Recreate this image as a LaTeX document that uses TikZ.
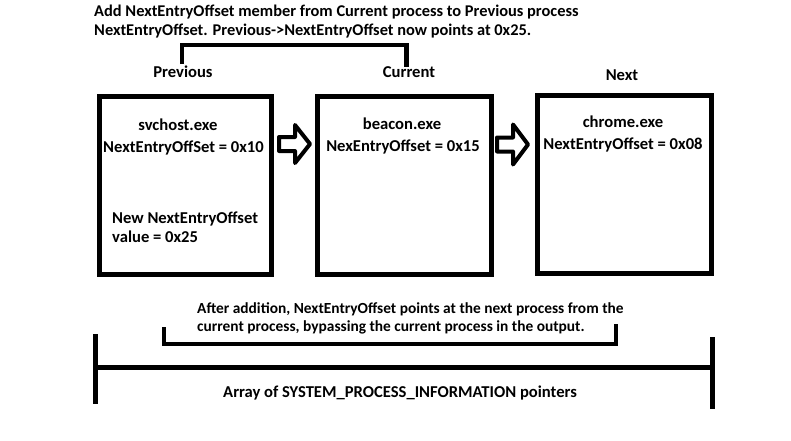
\documentclass[tikz,border=0pt]{standalone}
\usepackage{fontspec}
\setmainfont{Carlito}

\begin{document}
\begin{tikzpicture}[x=1pt,y=-1pt,
		every node/.style={font=\fontsize{16.6}{18.5}\selectfont\bfseries, inner sep=0pt},
		procbox/.style={draw, line width=5pt, minimum width=172pt, minimum height=178pt},
		blockarrow/.style={line width=4pt, line join=round},
		bracket/.style={line width=4.5pt}]
	\useasboundingbox (0,0) rectangle (791,440);

	% the three processes
	\node[procbox] (prev) at (185,185) {};
	\node[procbox, minimum width=174pt] (curr) at (404,185) {};
	\node[procbox, minimum width=174pt] (next) at (624,184) {};

	% hollow arrows from box to box
	\draw[blockarrow] ([xshift=5.5pt,yshift=41pt]prev.east) ++(0,-7) -- ++(16,0) -- ++(0,-12)
		-- ++(15,19) -- ++(-15,19) -- ++(0,-12) -- ++(-16,0) -- cycle;
	\draw[blockarrow] ([xshift=3.5pt,yshift=40.5pt]curr.east) ++(0,-7) -- ++(16,0) -- ++(0,-13)
		-- ++(15,20) -- ++(-15,20) -- ++(0,-13) -- ++(-16,0) -- cycle;

	% box contents
	\node[anchor=base] (prevname) at (178,130) {svchost.exe};
	\node[anchor=base] (prevoff) at (183.5,152.5) {NextEntryOffSet = 0x10};
	\node[anchor=base west, align=left] (prevnew) at (112,242) {New NextEntryOffset\\value = 0x25};
	\node[anchor=base] (currname) at (402,129) {beacon.exe};
	\node[anchor=base] (curroff) at (403,151) {NexEntryOffset = 0x15};
	\node[anchor=base] (nextname) at (623,127.5) {chrome.exe};
	\node[anchor=base] (nextoff) at (623,149) {NextEntryOffset = 0x08};

	% labels
	\node[anchor=base] (prevlbl) at (183,77) {Previous};
	\node[anchor=base] (currlbl) at (409,77) {Current};
	\node[anchor=base] (nextlbl) at (622,80) {Next};

	% top note and its bracket
	\node[anchor=base west, align=left, font=\fontsize{16.4}{18.5}\selectfont\bfseries] (addnote) at (94,35) {Add NextEntryOffset member from Current process to Previous process\\NextEntryOffset. Previous->NextEntryOffset now points at 0x25.};
	\draw[bracket] (182,64) |- (406.5,45) -- (406.5,67);

	% bottom note and its bracket
	\node[anchor=base west, align=left, font=\fontsize{15.4}{18}\selectfont\bfseries] (bypassnote) at (197,331) {After addition, NextEntryOffset points at the next process from the\\current process, bypassing the current process in the output.};
	\draw[bracket] (164,327) |- (616,344) -- (616,324);

	% array
	\draw[line width=5pt] (95,334) -- (95,404);
	\draw[line width=5pt] (712,337) -- (712,409);
	\draw[line width=5pt] (95,367.5) -- (712,367.5);
	\node[anchor=base west] (arrlbl) at (223,397.5) {Array of SYSTEM\_PROCESS\_INFORMATION pointers};
\end{tikzpicture}
\end{document}
